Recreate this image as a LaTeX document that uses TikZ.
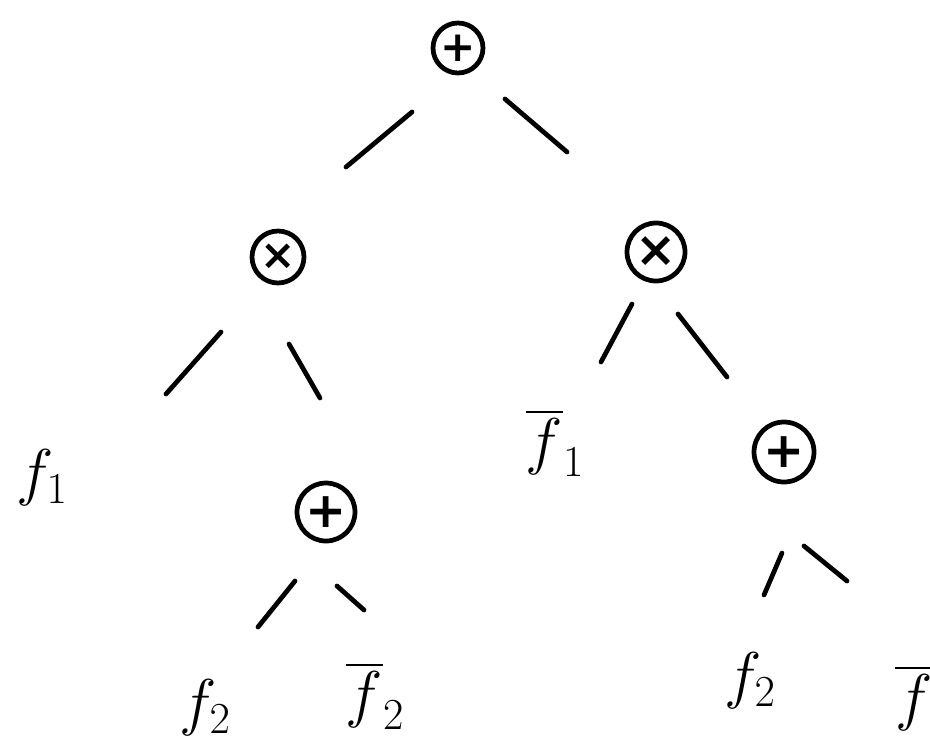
\RequirePackage{fix-cm}
\documentclass[tikz,border=0pt]{standalone}
\usepackage{amsmath}
\usepackage{fontspec}
\newfontfamily\opfont{DejaVu Sans}
\begin{document}
\begin{tikzpicture}[x=0.02cm,y=-0.02cm,
  op/.style={circle,draw,line width=2.7pt,inner sep=0pt,font=\opfont\bfseries\fontsize{28}{30}\selectfont},
  leaf/.style={font=\fontsize{36}{40}\selectfont,inner sep=0pt},
  edge/.style={line width=2.7pt,line cap=round}]
\useasboundingbox (0,0) rectangle (930,751);
% operator nodes
\node[op,minimum size=1.0cm,font=\opfont\bfseries\fontsize{24}{26}\selectfont]  (root) at (458,48)  {+};
\node[op,minimum size=1.04cm,font=\opfont\bfseries\fontsize{24}{26}\selectfont] (lx)   at (278,257) {×};
\node[op,minimum size=1.16cm] (rx)   at (656,252) {×};
\node[op,minimum size=1.16cm] (lp)   at (326,512) {+};
\node[op,minimum size=1.2cm]  (rp)   at (784,452) {+};
% leaves
\node[leaf] (f1)  at (42,478)  {$f_1$};
\node[leaf] (nf1) at (555,443) {$\overline{f}_1$};
\node[leaf] (f2l) at (205,708) {$f_2$};
\node[leaf] (nf2l) at (375,696) {$\overline{f}_2$};
\node[leaf] (f2r) at (750,681) {$f_2$};
\node[leaf] (nf2r) at (914,698) {$\overline{f}$};
% connectors
\draw[edge] ([shift={(-46,64)}]root.center) -- ([shift={(68,-90)}]lx.center);
\draw[edge] ([shift={(47,51)}]root.center) -- ([shift={(-89,-100)}]rx.center);
\draw[edge] ([shift={(-57,75)}]lx.center) -- ([shift={(124,-84)}]f1.center);
\draw[edge] ([shift={(11,87)}]lx.center) -- ([shift={(-6,-114)}]lp.center);
\draw[edge] ([shift={(-31,69)}]lp.center) -- ([shift={(53,-81)}]f2l.center);
\draw[edge] ([shift={(11,74)}]lp.center) -- ([shift={(-11,-86)}]nf2l.center);
\draw[edge] ([shift={(-24,52)}]rx.center) -- ([shift={(46,-81)}]nf1.center);
\draw[edge] ([shift={(22,62)}]rx.center) -- ([shift={(-57,-75)}]rp.center);
\draw[edge] ([shift={(-2,101)}]rp.center) -- ([shift={(14,-86)}]f2r.center);
\draw[edge] ([shift={(20,94)}]rp.center) -- ([shift={(-67,-117)}]nf2r.center);
\end{tikzpicture}
\end{document}
